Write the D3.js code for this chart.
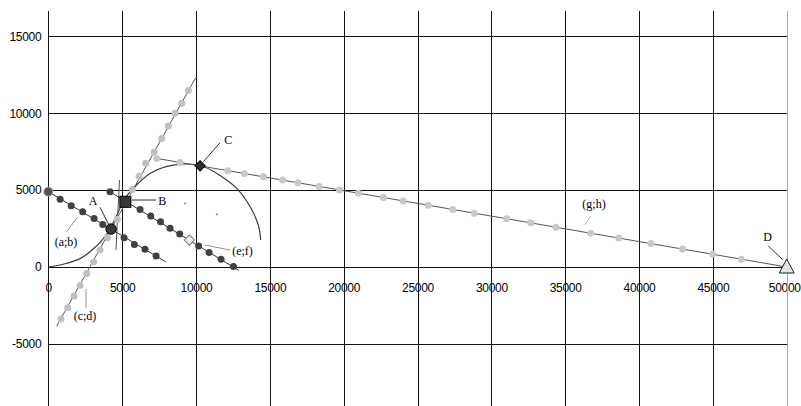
<!DOCTYPE html>
<html>
<head>
<meta charset="utf-8">
<script src="https://cdn.jsdelivr.net/npm/d3@7"></script>
<style>
  body { margin: 0; background: #fff; }
  svg { display: block; }
  .tick text { font-family: "Liberation Sans", Arial, sans-serif; font-size: 12px; letter-spacing: -0.3px; fill: #000; }
  .note { font-family: "Liberation Serif", "Times New Roman", serif; font-size: 12px; fill: #000; }
</style>
</head>
<body>
<svg width="801" height="406"></svg>
<script>
const xTicks = [0, 5000, 10000, 15000, 20000, 25000, 30000, 35000, 40000, 45000, 50000];
const yTicks = [-5000, 0, 5000, 10000, 15000];

// straight lines (ends) and their dots
const abLine = [[0, 4900], [7950, 340]];
const abDots = [[0, 4900], [800, 4400], [1550, 3980], [2330, 3590], [3100, 3160], [3690, 2770],
  [5130, 1900], [5830, 1470], [6550, 1150], [7300, 710]];

const cdLine = [[565, -3850], [9986, 12318]];
const cdDots = [[862, -3380], [1314, -2650], [1741, -1880], [2148, -1200], [2602, -430], [3070, 330],
  [3501, 1100], [3995, 1900], [4672, 3100], [5691, 5040], [6145, 5900], [6598, 6750], [7162, 7480],
  [7680, 8350], [8130, 9170], [8583, 10000], [9035, 10650], [9485, 11480]];

const efLine = [[4180, 4890], [12900, -220]];
const efDots = [[4180, 4890], [6213, 3747], [6938, 3312], [7600, 2950], [8245, 2513], [8900, 2143],
  [10180, 1364], [10887, 950], [11700, 500], [12534, 40]];

const ghLine = [[7200, 7085], [50000, 0]];
const ghDots = [[7340, 7065], [8922, 6803], [12155, 6267], [13280, 6081], [14570, 5867], [15860, 5654],
  [16900, 5481], [18340, 5243], [19720, 5014], [21000, 4802], [22700, 4521], [24038, 4300],
  [25731, 4019], [27384, 3745], [28846, 3503], [31040, 3140], [32665, 2871], [34378, 2587],
  [36728, 2198], [38620, 1885], [40810, 1522], [42950, 1168], [44985, 831], [46930, 509]];

// the curve from the origin over C
const arc = [[0, 0], [1063, 195], [2147, 545], [2959, 1104], [3600, 1700], [4200, 2500], [4700, 3500],
  [5150, 4400], [5757, 5110], [6888, 6084], [8465, 6623], [10278, 6600], [11631, 5955],
  [12758, 5110], [13670, 3916], [14220, 2727], [14385, 1753]];
const tangent = [[4821, 5657], [4584, 1105]];
const smallPts = [[9260, 4137], [11410, 3422]];

const ptA = [4250, 2470];
const ptB = [5217, 4240];
const ptC = [10278, 6578];
const ptD = [50000, 0];
const ptE = [9550, 1750];
const ptStart = [0, 4900];

// label texts, anchors and leader ends in data units
const notes = [
  { t: "(a;b)", at: [1199, 1365], from: [1246, 2295], to: [1964, 3231], c: "#909090" },
  { t: "(c;d)", at: [2485, -3446], from: [2553, -1450], to: [2553, -2685], c: "#909090" },
  { t: "(e;f)", at: [13150, 780], from: [10610, 1430], to: [12303, 1105], c: "#909090" },
  { t: "(g;h)", at: [36952, 3836], from: [36728, 3316], to: [36342, 2731], c: "#b0b0b0" },
  { t: "A", at: [3027, 4031], from: [3501, 3882], to: [4110, 2731], c: "#303030" },
  { t: "B", at: [7720, 4031], from: [5647, 4356], to: [7293, 4356], c: "#303030" },
  { t: "C", at: [12189, 7997], from: [11627, 8082], to: [10496, 6847], c: "#303030" },
  { t: "D", at: [48700, 1723], from: [48754, 1365], to: [49702, 501], c: "#303030" }
];

const svg = d3.select("svg");
const x = d3.scaleLinear().domain([0, 50000]).range([48.3, 786.7]);
const y = d3.scaleLinear().domain([-9040, 16650]).range([406, 11]);

// tick labels (under the grid, as in the original)
svg.append("g")
  .attr("transform", `translate(0,${y(0)})`)
  .call(d3.axisBottom(x).tickValues(xTicks).tickSize(0).tickPadding(16.5).tickFormat(d => String(d)))
  .call(g => g.select(".domain").remove())
  .call(g => g.selectAll(".tick text").filter(d => d === 50000).attr("dx", -2.5));
svg.append("g")
  .attr("transform", `translate(${x(0)},0)`)
  .call(d3.axisLeft(y).tickValues(yTicks).tickSize(0).tickPadding(7).tickFormat(d => String(d)))
  .call(g => g.select(".domain").remove());

const grid = svg.append("g").attr("shape-rendering", "crispEdges");
grid.selectAll("line.v").data(xTicks).enter().append("line")
  .attr("x1", d => Math.round(x(d)) + 0.5).attr("x2", d => Math.round(x(d)) + 0.5)
  .attr("y1", y.range()[1]).attr("y2", y.range()[0])
  .attr("stroke", d => d === 50000 ? "#a8a8a8" : "#111");
grid.selectAll("line.h").data(yTicks).enter().append("line")
  .attr("x1", x.range()[0]).attr("x2", x.range()[1])
  .attr("y1", d => Math.round(y(d)) + 0.5).attr("y2", d => Math.round(y(d)) + 0.5)
  .attr("stroke", "#111");

const line = d3.line().x(d => x(d[0])).y(d => y(d[1]));
const curve = d3.line().x(d => x(d[0])).y(d => y(d[1])).curve(d3.curveCatmullRom);

svg.append("path").attr("d", curve(arc)).attr("fill", "none").attr("stroke", "#3a3a3a").attr("stroke-width", 1.2);
svg.append("path").attr("d", line(tangent)).attr("fill", "none").attr("stroke", "#505050");

// leaders
svg.selectAll("line.lead").data(notes).enter().append("line")
  .attr("x1", d => x(d.from[0])).attr("y1", d => y(d.from[1]))
  .attr("x2", d => x(d.to[0])).attr("y2", d => y(d.to[1]))
  .attr("stroke", d => d.c);

const series = [
  { ln: cdLine, dots: cdDots, stroke: "#555", fill: "#c0c0c0" },
  { ln: ghLine, dots: ghDots, stroke: "#555", fill: "#c8c8c8" },
  { ln: abLine, dots: abDots, stroke: "#333", fill: "#404040" },
  { ln: efLine, dots: efDots, stroke: "#333", fill: "#404040" }
];
series.forEach(s => {
  svg.append("path").attr("d", line(s.ln)).attr("fill", "none").attr("stroke", s.stroke);
  svg.append("g").selectAll("circle").data(s.dots).enter().append("circle")
    .attr("cx", d => x(d[0])).attr("cy", d => y(d[1])).attr("r", 3.5)
    .attr("fill", s.fill);
});

svg.selectAll("circle.tiny").data(smallPts).enter().append("circle")
  .attr("cx", d => x(d[0])).attr("cy", d => y(d[1])).attr("r", 0.9).attr("fill", "#707070");

// special points
svg.append("circle").attr("cx", x(ptStart[0])).attr("cy", y(ptStart[1])).attr("r", 4.5)
  .attr("fill", "#505050").attr("stroke", "#a0a0a0");
svg.append("circle").attr("cx", x(ptA[0])).attr("cy", y(ptA[1])).attr("r", 5.2)
  .attr("fill", "#383838").attr("stroke", "#000");
svg.append("rect").attr("x", x(ptB[0]) - 5.5).attr("y", y(ptB[1]) - 5.5).attr("width", 11).attr("height", 11)
  .attr("fill", "#383838").attr("stroke", "#000");
const diamond = d3.symbol().type(d3.symbolSquare).size(52);
svg.append("path").attr("d", diamond()).attr("transform", `translate(${x(ptC[0])},${y(ptC[1])}) rotate(45)`)
  .attr("fill", "#303030").attr("stroke", "#000");
svg.append("path").attr("d", diamond()).attr("transform", `translate(${x(ptE[0])},${y(ptE[1])}) rotate(45)`)
  .attr("fill", "#ececec").attr("stroke", "#7a7a7a");
svg.append("path")
  .attr("d", `M${x(ptD[0])},${y(ptD[1]) - 8}L${x(ptD[0]) + 7.5},${y(ptD[1]) + 6}L${x(ptD[0]) - 7.5},${y(ptD[1]) + 6}Z`)
  .attr("fill", "#e4e4e4").attr("stroke", "#202020");

svg.selectAll("text.note").data(notes).enter().append("text")
  .attr("class", "note")
  .attr("x", d => x(d.at[0])).attr("y", d => y(d.at[1]))
  .attr("text-anchor", "middle")
  .text(d => d.t);
</script>
</body>
</html>
